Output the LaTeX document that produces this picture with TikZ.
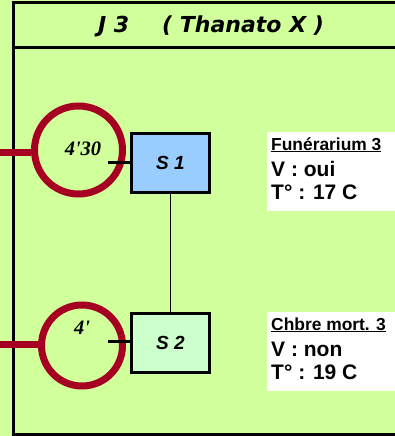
\documentclass[tikz,border=0pt]{standalone}
\usepackage{fontspec}
\setmainfont{Liberation Sans}
\newfontfamily\serifit{Liberation Serif}
\newfontfamily\titrefont{DejaVu Sans}
\usetikzlibrary{positioning}
\definecolor{fond}{RGB}{208,255,156}
\definecolor{bordeaux}{RGB}{165,0,33}
\definecolor{bleuS}{RGB}{153,204,255}
\definecolor{vertS}{RGB}{204,255,204}

\begin{document}
\begin{tikzpicture}[x=1pt,y=-1pt,
  salle/.style={draw,line width=2.5pt,minimum width=78pt,minimum height=59pt,inner sep=0pt,font=\fontsize{19}{22}\selectfont\bfseries\itshape},
  duree/.style={circle,draw=bordeaux,line width=7pt,inner sep=0pt},
  temps/.style={inner sep=0pt,font=\serifit\fontsize{20.5}{24}\selectfont\bfseries\itshape},
  info/.style={anchor=base west,inner sep=0pt,font=\fontsize{21}{24}\selectfont\bfseries}]
  \fill[fond] (0,0) rectangle (395,436);
  \useasboundingbox (0,0) rectangle (395,436);
  % cadre et titre
  \draw[line width=3pt] (13,3) rectangle (400,434);
  \draw[line width=3pt] (13,48) -- (400,48);
  \node[inner sep=0pt,font=\titrefont\fontsize{22}{26}\selectfont\bfseries\itshape] (titre) at (211,26) {J 3\hspace{1.5em}( Thanato X )};
  % salles
  \node[salle,fill=bleuS] (s1) at (170.5,163) {S 1};
  \node[salle,fill=vertS] (s2) at (170.5,343) {S 2};
  \draw[line width=0.8pt] (s1) -- (s2);
  % durees
  \node[duree,minimum size=88pt] (c1) at (78.5,150) {};
  \node[duree,minimum size=81pt] (c2) at (82,345.5) {};
  \node[temps] (t1) at (83,149) {4\textquotesingle30};
  \node[temps] (t2) at (82,328) {4\textquotesingle};
  \coordinate (e1) at (0,152);
  \coordinate (e2) at (0,344);
  \draw[bordeaux,line width=7pt] (e1) -- (c1.west |- e1);
  \draw[bordeaux,line width=7pt] (e2) -- (c2.west |- e2);
  \coordinate (k1) at (108,162);
  \coordinate (k2) at (108,341);
  \draw[line width=3pt] (k1) -- (s1.west |- k1);
  \draw[line width=3pt] (k2) -- (s2.west |- k2);
  % infos
  \fill[white] (267,132) rectangle (395,211);
  \fill[white] (267,312) rectangle (395,391);
  \node[info,font=\fontsize{17.4}{20}\selectfont\bfseries] (f1) at (271,150) {\underline{Funérarium 3}};
  \node[info] (v1) at (271,176) {V : oui};
  \node[info] (d1) at (271,199) {T° : 17 C};
  \node[info,font=\fontsize{17.4}{20}\selectfont\bfseries] (f2) at (271,330) {\underline{Chbre mort. 3}};
  \node[info] (v2) at (271,356) {V : non};
  \node[info] (d2) at (271,379) {T° : 19 C};
\end{tikzpicture}
\end{document}
